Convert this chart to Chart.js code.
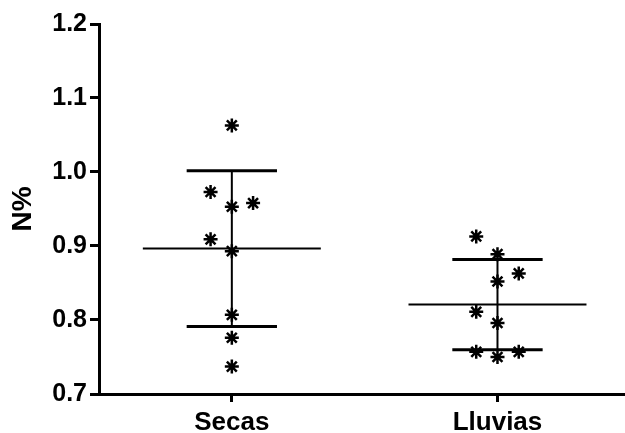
<!DOCTYPE html>
<html>
<head>
<meta charset="utf-8">
<script src="https://cdn.jsdelivr.net/npm/chart.js@4/dist/chart.umd.min.js"></script>
<style>
  body { margin: 0; background: #fff; }
  #wrap { width: 625px; height: 433px; }
</style>
</head>
<body>
<div id="wrap"><canvas id="chart"></canvas></div>
<script>
const groups = ['Secas', 'Lluvias'];
const secasValues = [1.063, 0.973, 0.953, 0.958, 0.909, 0.893, 0.807, 0.776, 0.737];
const secasColumn = [0, -1, 0, 1, -1, 0, 0, 0, 0];
const lluviasValues = [0.913, 0.889, 0.852, 0.863, 0.811, 0.796, 0.757, 0.750, 0.757];
const lluviasColumn = [-1, 0, 0, 1, -1, 0, -1, 0, 1];
const yTicks = [0.7, 0.8, 0.9, 1.0, 1.1, 1.2];

const JITTER = 0.08;
const MEAN_HALF = 0.335;
const CAP_HALF = 0.17;
const FONT = 'Arial, "Liberation Sans", sans-serif';

function mean(arr) {
  return arr.reduce((a, b) => a + b, 0) / arr.length;
}
function sd(arr) {
  const m = mean(arr);
  return Math.sqrt(arr.reduce((a, b) => a + (b - m) * (b - m), 0) / (arr.length - 1));
}

function segment(x1, y1, x2, y2, width) {
  return {
    type: 'line',
    data: [{ x: x1, y: y1 }, { x: x2, y: y2 }],
    borderColor: '#000',
    borderWidth: width,
    pointRadius: 0,
    fill: false,
    order: 2,
  };
}

const datasets = [];
[[secasValues, secasColumn], [lluviasValues, lluviasColumn]].forEach(([vals, cols], i) => {
  const x = i + 1;
  const m = mean(vals);
  const s = sd(vals);
  datasets.push(segment(x - MEAN_HALF, m, x + MEAN_HALF, m, 2));
  datasets.push(segment(x, m - s, x, m + s, 2));
  datasets.push(segment(x - CAP_HALF, m + s, x + CAP_HALF, m + s, 3));
  datasets.push(segment(x - CAP_HALF, m - s, x + CAP_HALF, m - s, 3));
  datasets.push({
    type: 'scatter',
    label: groups[i],
    data: vals.map((v, k) => ({ x: x + cols[k] * JITTER, y: v })),
    pointStyle: 'star',
    pointRadius: 7,
    borderWidth: 2.5,
    borderColor: '#000',
    backgroundColor: '#000',
    order: 1,
  });
});

new Chart(document.getElementById('chart'), {
  type: 'scatter',
  data: { datasets: datasets },
  options: {
    responsive: true,
    maintainAspectRatio: false,
    animation: false,
    layout: { autoPadding: false, padding: { top: 24, right: 0, left: 0, bottom: 0 } },
    plugins: {
      legend: { display: false },
      tooltip: { enabled: false },
    },
    scales: {
      x: {
        type: 'linear',
        min: 0.5,
        max: 2.48,
        afterBuildTicks: (axis) => { axis.ticks = groups.map((g, i) => ({ value: i + 1 })); },
        afterFit: (axis) => { axis.height = 39; },
        ticks: {
          color: '#000',
          padding: 5,
          font: { family: FONT, size: 26, weight: 'bold' },
          callback: (v) => groups[v - 1],
        },
        grid: {
          drawOnChartArea: false,
          drawTicks: true,
          tickLength: 8,
          tickWidth: 3,
          tickColor: '#000',
        },
        border: { color: '#000', width: 3 },
      },
      y: {
        min: 0.7,
        max: 1.2,
        afterBuildTicks: (axis) => { axis.ticks = yTicks.map(v => ({ value: v })); },
        afterFit: (axis) => { axis.width = 99; },
        ticks: {
          color: '#000',
          padding: 3,
          font: { family: FONT, size: 25, weight: 'bold' },
          callback: (v) => v.toFixed(1),
        },
        grid: {
          drawOnChartArea: false,
          drawTicks: true,
          tickLength: 9,
          tickWidth: 3,
          tickColor: '#000',
        },
        border: { color: '#000', width: 3 },
        title: {
          display: true,
          text: 'N%',
          color: '#000',
          padding: { top: 6, bottom: 0 },
          font: { family: FONT, size: 28, weight: 'bold' },
        },
      },
    },
  },
});
</script>
</body>
</html>
